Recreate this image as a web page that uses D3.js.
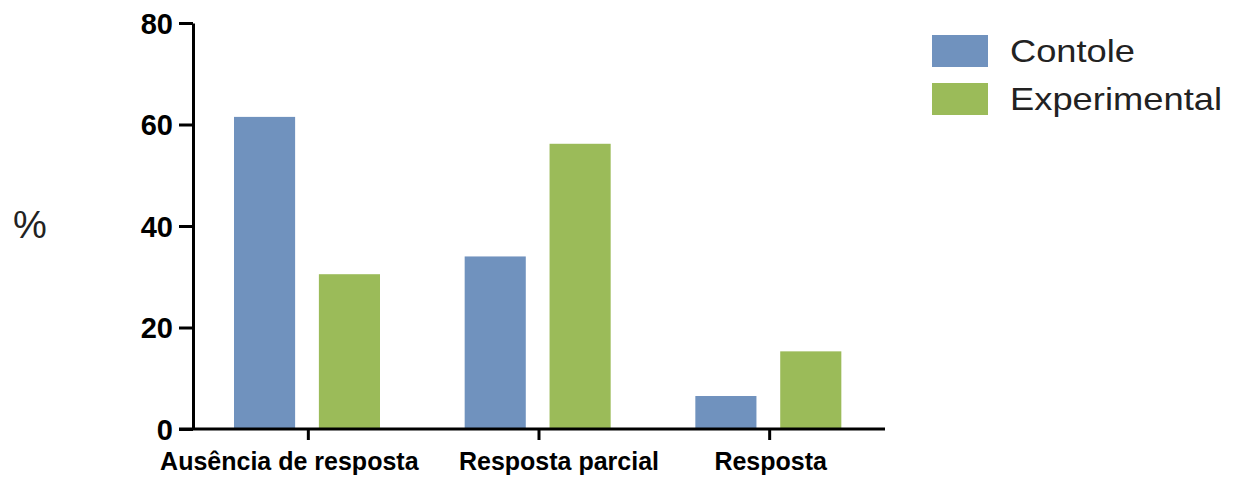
<!DOCTYPE html>
<html>
<head>
<meta charset="utf-8">
<script src="https://cdn.jsdelivr.net/npm/d3@7"></script>
<style>
  body { margin: 0; background: #fff; }
  svg { display: block; font-family: Arial, "Liberation Sans", sans-serif; }
</style>
</head>
<body>
<svg id="chart"></svg>
<script>
// datos
const categories = ["Ausência de resposta", "Resposta parcial", "Resposta"];
const seriesNames = ["Contole", "Experimental"];
const contole = [61.5, 34, 6.5];
const experimental = [30.5, 56.2, 15.3];
const yTicks = [0, 20, 40, 60, 80];

const width = 1241;
const height = 480;
const colors = ["#7092be", "#9bbb59"];
const labelDx = [-19, 20, 1]; // las etiquetas no estan centradas en el original

const svg = d3.select("#chart")
  .attr("width", width)
  .attr("height", height);

const plotLeft = 193, plotRight = 885, plotTop = 23, plotBottom = 429;

const y = d3.scaleLinear().domain([0, 80]).range([plotBottom, plotTop]);
const x0 = d3.scaleBand().domain(categories).range([plotLeft, plotRight]).padding(0);
const x1 = d3.scaleBand().domain(seriesNames)
  .range([41, 187]).paddingInner(0.28).paddingOuter(0);

const rows = categories.map((c, i) => ({cat: c, values: [contole[i], experimental[i]]}));

// barras
const groups = svg.append("g").selectAll("g")
  .data(rows)
  .enter().append("g")
  .attr("transform", d => `translate(${x0(d.cat)},0)`);

groups.selectAll("rect")
  .data(d => d.values.map((v, j) => ({name: seriesNames[j], value: v, j})))
  .enter().append("rect")
  .attr("x", d => x1(d.name))
  .attr("width", x1.bandwidth())
  .attr("y", d => y(d.value))
  .attr("height", d => plotBottom - y(d.value))
  .attr("fill", d => colors[d.j]);

// eje y
const yAxis = svg.append("g")
  .attr("transform", `translate(${plotLeft},0)`)
  .call(d3.axisLeft(y).tickValues(yTicks).tickSize(14).tickSizeOuter(0).tickPadding(6));
yAxis.select(".domain").attr("stroke", "#000").attr("stroke-width", 3);
yAxis.selectAll(".tick line").attr("stroke", "#000").attr("stroke-width", 3);
yAxis.selectAll(".tick text")
  .attr("fill", "#000")
  .style("font-size", "29px")
  .style("font-weight", "bold")
  .attr("dy", "0.36em");

// eje x
const xAxis = svg.append("g")
  .attr("transform", `translate(0,${plotBottom})`)
  .call(d3.axisBottom(x0).tickSize(11).tickSizeOuter(0).tickPadding(12));
xAxis.select(".domain").attr("stroke", "#000").attr("stroke-width", 3)
  .attr("d", `M${plotLeft - 14},0H${plotRight}`);
xAxis.selectAll(".tick line").attr("stroke", "#000").attr("stroke-width", 3);
xAxis.selectAll(".tick text")
  .attr("fill", "#000")
  .attr("dx", (d, i) => labelDx[i])
  .style("font-size", "25px")
  .style("font-weight", "bold");

// titulo del eje y
svg.append("text")
  .attr("x", 30)
  .attr("y", 238)
  .attr("text-anchor", "middle")
  .style("font-size", "38px")
  .attr("fill", "#222")
  .text("%");

// leyenda
const legend = svg.append("g")
  .selectAll("g")
  .data(seriesNames)
  .enter().append("g")
  .attr("transform", (d, i) => `translate(932,${35 + i * 48})`);

legend.append("rect")
  .attr("width", 56)
  .attr("height", 32)
  .attr("fill", (d, i) => colors[i]);

legend.append("text")
  .attr("x", 78)
  .attr("y", 27)
  .style("font-size", "32px")
  .attr("fill", "#222")
  .attr("textLength", (d, i) => i === 0 ? 125 : 212)
  .attr("lengthAdjust", "spacingAndGlyphs")
  .text(d => d);
</script>
</body>
</html>
